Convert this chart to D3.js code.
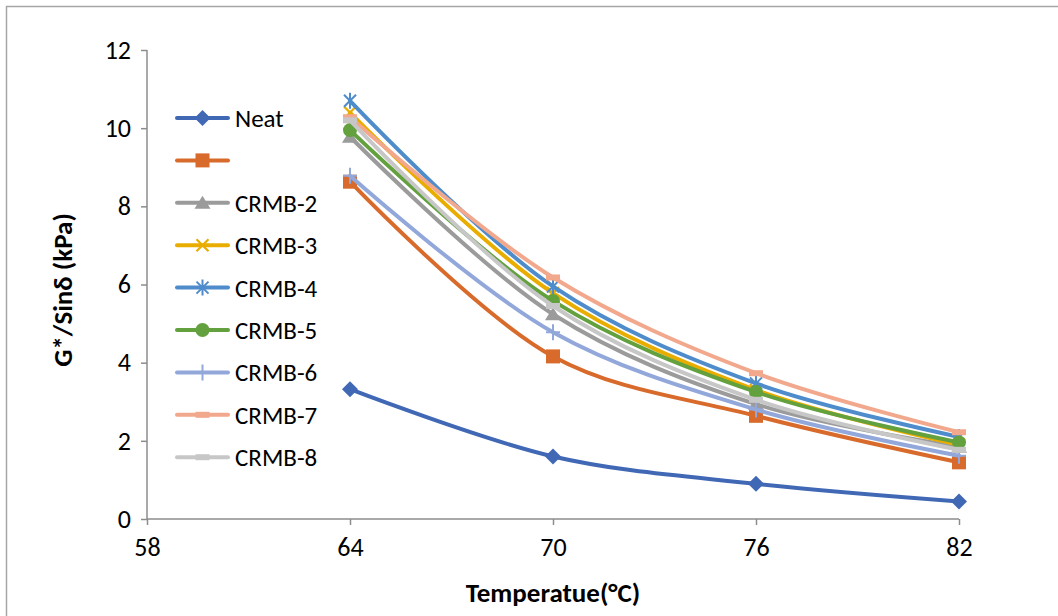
<!DOCTYPE html>
<html>
<head>
<meta charset="utf-8">
<script src="https://cdn.jsdelivr.net/npm/d3@7"></script>
<style>
  html, body { margin: 0; padding: 0; background: #fff; }
  svg { display: block; font-family: Carlito, Lato, "Liberation Sans", sans-serif; }
</style>
</head>
<body>
<svg id="chart" width="1058" height="616"></svg>
<script>
// Test temperatures (°C) and axis ticks
const temperatures = [64, 70, 76, 82];
const xTicks = [58, 64, 70, 76, 82];
const yTicks = [0, 2, 4, 6, 8, 10, 12];

// Series names (second series has no legend label)
const seriesNames = ["Neat", "", "CRMB-2", "CRMB-3", "CRMB-4", "CRMB-5", "CRMB-6", "CRMB-7", "CRMB-8"];

// G*/sinδ (kPa) per series at each temperature
const neat  = [3.32, 1.60, 0.90, 0.45];
const crmb1 = [8.63, 4.16, 2.64, 1.45];
const crmb2 = [9.78, 5.24, 2.94, 1.85];
const crmb3 = [10.40, 5.78, 3.30, 1.90];
const crmb4 = [10.70, 5.95, 3.47, 2.10];
const crmb5 = [9.95, 5.58, 3.25, 1.96];
const crmb6 = [8.78, 4.78, 2.80, 1.62];
const crmb7 = [10.28, 6.18, 3.73, 2.22];
const crmb8 = [10.20, 5.45, 3.05, 1.77];

const seriesValues = [neat, crmb1, crmb2, crmb3, crmb4, crmb5, crmb6, crmb7, crmb8];
const seriesColors = ["#4068b5", "#d86b2b", "#9b9b9b", "#e9ad00", "#4e8ccb", "#63a03e", "#92a7da", "#f2a88c", "#c7c7c7"];
const seriesMarkers = ["diamond", "square", "triangle", "x", "star", "circle", "plus", "dash", "dash"];

const svg = d3.select("#chart");

// Outer chart-area frame
svg.append("rect")
  .attr("x", 6.5).attr("y", 6.5)
  .attr("width", 1058).attr("height", 616)
  .attr("fill", "none").attr("stroke", "#a6a6a6").attr("stroke-width", 1.5);

const x = d3.scaleLinear().domain([58, 82]).range([147, 959]);
const y = d3.scaleLinear().domain([0, 12]).range([519, 50]);

// Y axis
const yAxis = svg.append("g")
  .attr("transform", "translate(147,0)")
  .call(d3.axisLeft(y).tickValues(yTicks).tickSize(6).tickPadding(10).tickFormat(d3.format("d")));
// X axis
const xAxis = svg.append("g")
  .attr("transform", "translate(0,519)")
  .call(d3.axisBottom(x).tickValues(xTicks).tickSize(6).tickPadding(13).tickFormat(d3.format("d")));

[yAxis, xAxis].forEach(g => {
  g.attr("font-size", null).attr("font-family", null);
  g.select(".domain").attr("stroke", "#8c8c8c").attr("stroke-width", 1.5);
  g.selectAll(".tick line").attr("stroke", "#8c8c8c").attr("stroke-width", 1.5);
  g.selectAll(".tick text").attr("fill", "#000").style("font-size", "26px");
});
// axis lines without outer end ticks
yAxis.select(".domain").attr("d", `M0,${y(12)}V${y(0)}`);
xAxis.select(".domain").attr("d", `M${x(58)},0H${x(82)}`);

// Axis titles
svg.append("text")
  .attr("x", 553).attr("y", 602)
  .attr("text-anchor", "middle")
  .style("font-size", "27px").style("font-weight", "bold")
  .text("Temperatue(°C)");

svg.append("text")
  .attr("transform", "translate(72,290) rotate(-90)")
  .attr("text-anchor", "middle")
  .style("font-size", "27px").style("font-weight", "bold")
  .text("G*/Sinδ (kPa)");

// Marker drawing
function drawMarker(g, type, color, cx, cy) {
  const s = 7;
  switch (type) {
    case "diamond":
      g.append("path").attr("d", `M${cx},${cy - 8}L${cx + 8},${cy}L${cx},${cy + 8}L${cx - 8},${cy}Z`).attr("fill", color);
      break;
    case "square":
      g.append("rect").attr("x", cx - s).attr("y", cy - s).attr("width", 2 * s).attr("height", 2 * s).attr("fill", color);
      break;
    case "triangle":
      g.append("path").attr("d", `M${cx},${cy - 7}L${cx + 8},${cy + 6}L${cx - 8},${cy + 6}Z`).attr("fill", color);
      break;
    case "x":
      g.append("path").attr("d", `M${cx - 6},${cy - 6}L${cx + 6},${cy + 6}M${cx + 6},${cy - 6}L${cx - 6},${cy + 6}`)
        .attr("stroke", color).attr("stroke-width", 2.2);
      break;
    case "star":
      g.append("path").attr("d", `M${cx - 6},${cy - 6}L${cx + 6},${cy + 6}M${cx + 6},${cy - 6}L${cx - 6},${cy + 6}M${cx},${cy - 8}L${cx},${cy + 8}`)
        .attr("stroke", color).attr("stroke-width", 2);
      break;
    case "circle":
      g.append("circle").attr("cx", cx).attr("cy", cy).attr("r", 7).attr("fill", color);
      break;
    case "plus":
      g.append("path").attr("d", `M${cx - 7},${cy}L${cx + 7},${cy}M${cx},${cy - 8}L${cx},${cy + 8}`)
        .attr("stroke", color).attr("stroke-width", 2);
      break;
    case "dash":
      g.append("rect").attr("x", cx - 7).attr("y", cy - 3).attr("width", 14).attr("height", 6).attr("fill", color);
      break;
  }
}

// Series lines (smoothed) and markers
const line = d3.line()
  .x(d => x(d[0]))
  .y(d => y(d[1]))
  .curve(d3.curveCatmullRom.alpha(0.5));

seriesValues.forEach((vals, i) => {
  const pts = temperatures.map((t, j) => [t, vals[j]]);
  const g = svg.append("g");
  g.append("path").datum(pts)
    .attr("d", line)
    .attr("fill", "none")
    .attr("stroke", seriesColors[i])
    .attr("stroke-width", 4)
    .attr("stroke-linejoin", "round")
    .attr("stroke-linecap", "round");
  pts.forEach(p => drawMarker(g, seriesMarkers[i], seriesColors[i], x(p[0]), y(p[1])));
});

// Legend
const legend = svg.append("g");
seriesNames.forEach((name, i) => {
  const ly = 118 + i * 42.4;
  legend.append("line")
    .attr("x1", 177).attr("x2", 228).attr("y1", ly).attr("y2", ly)
    .attr("stroke", seriesColors[i]).attr("stroke-width", 4).attr("stroke-linecap", "round");
  drawMarker(legend, seriesMarkers[i], seriesColors[i], 202.5, ly);
  legend.append("text")
    .attr("x", 235).attr("y", ly + 9)
    .style("font-size", "25px")
    .text(name);
});
</script>
</body>
</html>
